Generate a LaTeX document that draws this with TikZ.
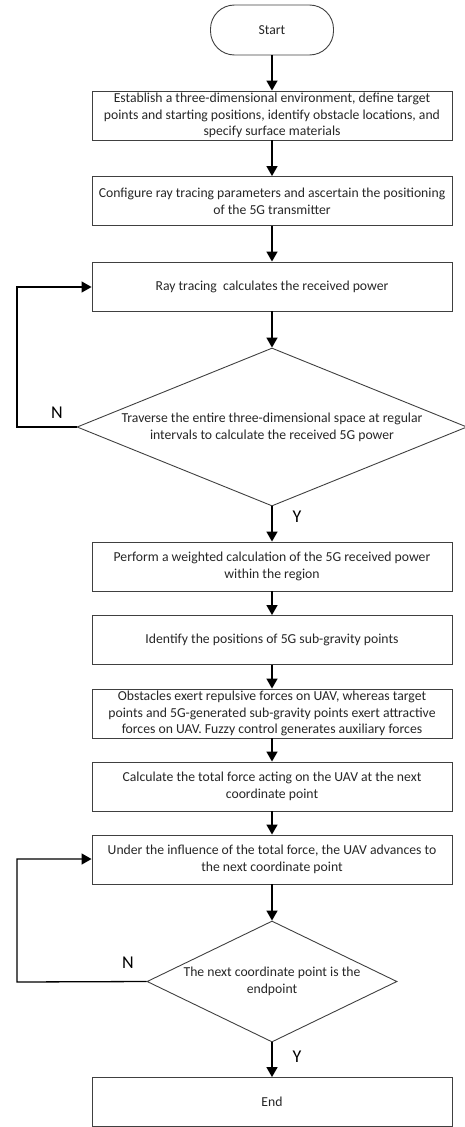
\documentclass[tikz,border=0pt]{standalone}
\usepackage{fontspec}
\setmainfont{Carlito}
\usetikzlibrary{shapes.geometric,arrows.meta}
\begin{document}
\begin{tikzpicture}[x=1pt,y=-1pt,
  every node/.style={font=\fontsize{13.7}{16.7}\selectfont, text=black!85},
  procbox/.style={draw=black!75, line width=0.9pt, rectangle, minimum width=360pt, minimum height=49pt, inner sep=0pt, align=center},
  termbox/.style={draw=black!75, line width=0.9pt, rectangle, rounded corners=24pt, minimum width=123pt, minimum height=50pt, inner sep=0pt, align=center},
  decbox/.style={draw=black!75, line width=0.9pt, diamond, inner sep=0pt, align=center},
  flow/.style={draw=black, line width=1.6pt, -{Triangle[length=10pt,width=11pt]}},
  yn/.style={font=\fontsize{18}{20}\selectfont, text=black, inner sep=0pt}
]
\useasboundingbox (0,0) rectangle (465,1127);
\node[termbox] (start) at (272,30) {Start};
\node[procbox] (b1) at (272,115.5) {Establish a three-dimensional environment, define target\\points and starting positions, identify obstacle locations, and\\specify surface materials};
\node[procbox] (b2) at (272,201) {Configure ray tracing parameters and ascertain the positioning\\of the 5G transmitter};
\node[procbox] (b3) at (272,286.5) {Ray tracing\ \ calculates the received power};
\node[decbox, aspect=2.468, minimum width=390pt, minimum height=158pt] (d1) at (272,427) {Traverse the entire three-dimensional space at regular\\intervals to calculate the received 5G power};
\node[procbox] (b4) at (272,566.5) {Perform a weighted calculation of the 5G received power\\within the region};
\node[procbox] (b5) at (272,640) {Identify the positions of 5G sub-gravity points};
\node[procbox] (b6) at (272,713.5) {Obstacles exert repulsive forces on UAV, whereas target\\points and 5G-generated sub-gravity points exert attractive\\forces on UAV. Fuzzy control generates auxiliary forces};
\node[procbox] (b7) at (272,786.5) {Calculate the total force acting on the UAV at the next\\coordinate point};
\node[procbox] (b8) at (272,859.5) {Under the influence of the total force, the UAV advances to\\the next coordinate point};
\node[decbox, aspect=2.066, minimum width=250pt, minimum height=121pt] (d2) at (272,981.5) {The next coordinate point is the\\endpoint};
\node[procbox] (end) at (272,1102) {End};

\coordinate (l1a) at (17,427);
\coordinate (l1b) at (17,287);
\coordinate (l2a) at (17,982);
\coordinate (l2b) at (17,859);

\draw[flow] (start) -- (b1);
\draw[flow] (b1) -- (b2);
\draw[flow] (b2) -- (b3);
\draw[flow] (b3) -- (d1);
\draw[flow] (d1) -- (b4);
\draw[flow] (b4) -- (b5);
\draw[flow] (b5) -- (b6);
\draw[flow] (b6) -- (b7);
\draw[flow] (b7) -- (b8);
\draw[flow] (b8) -- (d2);
\draw[flow] (d2) -- (end);
\draw[flow, line width=1.3pt] (d1.west) -- (l1a) -- (l1b) -- (b3.west |- l1b);
\draw[flow, line width=1.3pt] (d2.west) -- (l2a) -- (l2b) -- (b8.west |- l2b);

\node[yn] (n1) at (57,413) {N};
\node[yn] (y1) at (297,517) {Y};
\node[yn] (n2) at (128,963) {N};
\node[yn] (y2) at (297,1057) {Y};
\end{tikzpicture}
\end{document}
